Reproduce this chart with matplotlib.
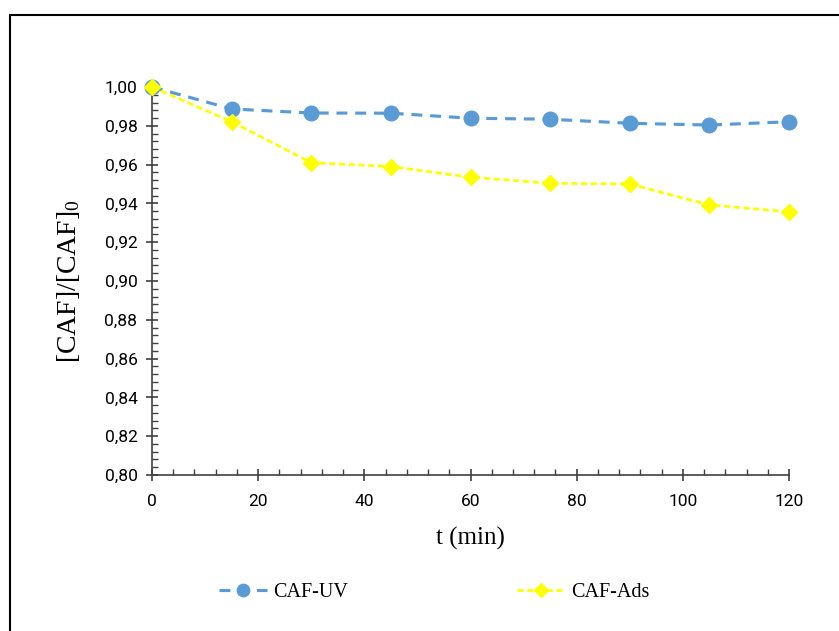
import matplotlib.pyplot as plt
from matplotlib import font_manager
from matplotlib.patches import Rectangle
from matplotlib.ticker import MultipleLocator, FuncFormatter

# data
t = [0, 15, 30, 45, 60, 75, 90, 105, 120]
caf_uv = [1.000, 0.9887, 0.9866, 0.9865, 0.9839, 0.9834, 0.9813, 0.9804, 0.9821]
caf_ads = [1.000, 0.9821, 0.9610, 0.9590, 0.9535, 0.9504, 0.9500, 0.9392, 0.9357]

names = {f.name for f in font_manager.fontManager.ttflist}
tick_font = 'Liberation Sans Narrow' if 'Liberation Sans Narrow' in names else 'Roboto'
serif_font = 'Liberation Serif'

plt.rcParams['mathtext.default'] = 'regular'

fig = plt.figure(figsize=(8.39, 6.31), dpi=100)
ax = fig.add_axes([0.1812, 0.2472, 0.7592, 0.6149])

# outer frame (cut off at right and bottom like the original)
fig.patches.append(Rectangle((10 / 839, -0.05), 1.2, 1 - 15 / 631 + 0.05,
                             transform=fig.transFigure, fill=False,
                             edgecolor='black', lw=1.5, zorder=0))

ax.plot(t, caf_uv, color='#5B9BD5', lw=2.25, dashes=(3.5, 2.5),
        marker='o', ms=10.5, mfc='#5B9BD5', mec='#5B9BD5', label='CAF-UV',
        clip_on=False, zorder=3)
ax.plot(t, caf_ads, color='#FFFF00', lw=2.0, dashes=(2.2, 1.3),
        marker='D', ms=8, mfc='#FFFF00', mec='#FFFF00', label='CAF-Ads',
        clip_on=False, zorder=4)

ax.set_xlim(0, 120)
ax.set_ylim(0.80, 1.00)
ax.xaxis.set_major_locator(MultipleLocator(20))
ax.xaxis.set_minor_locator(MultipleLocator(4))
ax.yaxis.set_major_locator(MultipleLocator(0.02))
ax.yaxis.set_minor_locator(MultipleLocator(0.004))
ax.yaxis.set_major_formatter(FuncFormatter(lambda v, p: f'{v:.2f}'.replace('.', ',')))

for s in ['top', 'right']:
    ax.spines[s].set_visible(False)
for s in ['left', 'bottom']:
    ax.spines[s].set_color('#404040')
    ax.spines[s].set_linewidth(1.2)

ax.tick_params(which='major', direction='inout', length=9, width=1.2, color='#404040')
ax.tick_params(which='minor', direction='in', length=4, width=1.0, color='#404040')
ax.tick_params(axis='x', which='major', pad=9)
ax.tick_params(axis='y', which='major', pad=6)
for lab in ax.get_xticklabels() + ax.get_yticklabels():
    lab.set_fontfamily(tick_font)
    lab.set_fontsize(12.5)
    lab.set_color('black')

ax.set_xlabel('t (min)', fontfamily=serif_font, fontsize=18, labelpad=13)
ax.set_ylabel('[CAF]/[CAF]$_0$', fontfamily=serif_font, fontsize=20, labelpad=16)

leg = ax.legend(loc='center', bbox_to_anchor=(0.443, -0.302), ncol=2, frameon=False,
                prop={'family': serif_font, 'size': 14.5}, handlelength=2.4,
                handletextpad=0.3, columnspacing=8.4, markerscale=0.85)

fig.savefig('out.png', dpi=100)
